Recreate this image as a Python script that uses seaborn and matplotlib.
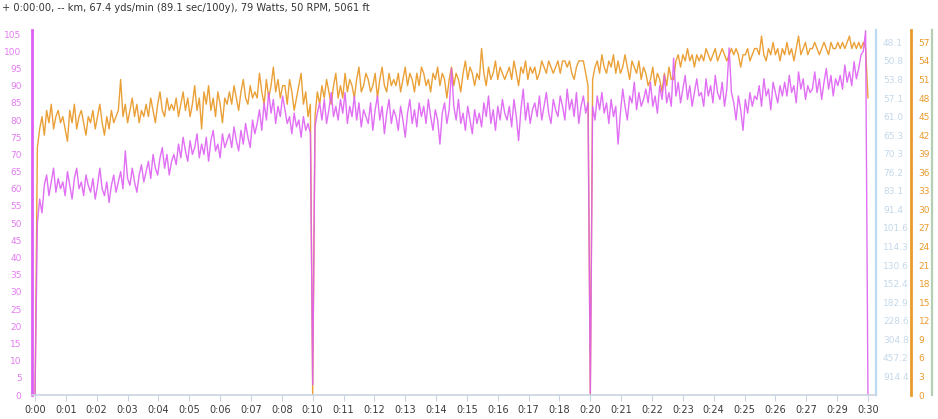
import numpy as np
import pandas as pd
import matplotlib
matplotlib.use("Agg")
import matplotlib.pyplot as plt
import seaborn as sns

# ---------------- data (5 s samples, one row per minute) ----------------
sample_seconds = 5
power_watts = [
    0, 50, 57, 53, 61, 64, 58, 62, 66, 59, 63, 60,
    62, 58, 65, 61, 57, 63, 66, 60, 62, 58, 64, 61,
    59, 63, 57, 61, 66, 60, 58, 62, 56, 61, 64, 59,
    62, 65, 60, 71, 63, 61, 66, 62, 59, 64, 67, 62,
    65, 68, 63, 70, 66, 64, 69, 72, 66, 70, 64, 68,
    70, 67, 73, 69, 75, 71, 68, 74, 70, 72, 76, 69,
    73, 70, 75, 68, 74, 77, 71, 73, 69, 76, 72, 74,
    76, 72, 78, 74, 71, 77, 73, 79, 75, 72, 80, 76,
    79, 83, 77, 85, 80, 88, 82, 86, 79, 84, 81, 87,
    83, 79, 81, 76, 82, 78, 80, 75, 81, 77, 79, 76,
    3, 78, 82, 85, 80, 86, 79, 83, 88, 81, 84, 80,
    86, 82, 88, 79, 84, 81, 87, 80, 85, 78, 83, 81,
    79, 85, 77, 83, 87, 80, 84, 76, 82, 86, 79, 83,
    81, 77, 84, 80, 75, 82, 86, 79, 83, 78, 85, 81,
    84, 79, 86, 81, 77, 83, 80, 73, 82, 85, 79, 83,
    95, 84, 80, 86, 79, 82, 77, 84, 80, 76, 83, 79,
    82, 78, 85, 81, 87, 79, 83, 77, 84, 80, 86, 82,
    80, 84, 78, 86, 81, 74, 83, 89, 80, 85, 79, 83,
    85, 81, 87, 80, 84, 88, 82, 79, 86, 83, 81, 87,
    84, 80, 89, 83, 86, 81, 88, 79, 84, 87, 82, 85,
    0, 84, 80, 87, 83, 88, 82, 85, 79, 86, 81, 84,
    73, 82, 89, 84, 80, 87, 85, 91, 83, 88, 84, 86,
    89, 85, 91, 84, 87, 82, 90, 86, 93, 85, 88, 84,
    98, 87, 91, 85, 89, 93, 86, 90, 84, 88, 92, 87,
    88, 84, 92, 87, 90, 85, 93, 88, 86, 91, 84, 89,
    101, 88, 85, 80, 87, 83, 77, 86, 82, 88, 84, 87,
    86, 90, 84, 92, 87, 89, 83, 91, 88, 85, 90, 87,
    91, 87, 93, 88, 90, 85, 94, 89, 92, 86, 90, 88,
    89, 94, 88, 92, 86, 91, 95, 89, 93, 87, 92, 90,
    93, 89, 96, 91, 94, 90, 97, 92, 95, 99, 100, 106,
    0,
]
cadence_rpm = [
    0, 40, 43, 45, 42, 46, 44, 47, 43, 45, 46, 44,
    45, 43, 41, 46, 44, 47, 43, 45, 46, 44, 42, 45,
    44, 46, 43, 45, 47, 44, 42, 45, 43, 46, 44, 45,
    46, 51, 45, 47, 44, 46, 48, 45, 47, 44, 46, 45,
    47, 45, 48, 46, 44, 47, 49, 46, 45, 48, 46, 47,
    46, 48, 45, 47, 49, 46, 48, 45, 47, 50, 46, 48,
    43, 49, 47, 50, 46, 48, 45, 49, 47, 44, 48, 47,
    49, 47, 50, 48, 46, 49, 51, 48, 47, 50, 48, 49,
    48, 52, 49, 47, 51, 48, 50, 53, 49, 51, 48, 50,
    50, 47, 51, 49, 46, 48, 50, 52, 47, 49, 45, 47,
    0, 45, 49, 47, 50, 48, 51, 49, 47, 50, 52, 48,
    50, 48, 52, 49, 51, 50, 48, 51, 53, 49, 50, 52,
    51, 49, 50, 52, 48, 51, 53, 50, 49, 52, 50, 51,
    50, 52, 49, 51, 53, 50, 52, 51, 49, 52, 50, 53,
    52, 50, 51, 49, 52, 51, 53, 50, 52, 51, 48, 51,
    53, 50, 52, 51, 49, 52, 54, 51, 53, 52, 50, 52,
    51, 56, 52, 50, 53, 51, 52, 54, 51, 53, 52, 51,
    52, 53, 51, 54, 52, 50, 53, 52, 54, 51, 53, 52,
    53, 51, 52, 54, 53, 52, 54, 53, 52, 53, 54, 52,
    54, 54, 53, 54, 52, 51, 53, 54, 54, 54, 52, 50,
    0, 51, 53, 54, 52, 55, 53, 52, 54, 53, 55, 52,
    54, 52, 53, 55, 53, 51, 54, 53, 52, 54, 51, 53,
    52, 50, 51, 53, 50, 52, 51, 49, 52, 50, 53, 51,
    51, 54, 55, 53, 55, 54, 56, 54, 55, 53, 55, 54,
    55, 54, 56, 55, 54, 55, 56, 54, 55, 56, 55, 54,
    55, 56, 55, 56, 55, 53, 55, 55, 56, 54, 55, 56,
    56, 55, 58, 55, 54, 56, 55, 57, 55, 56, 54, 56,
    55, 57, 55, 56, 54, 56, 58, 55, 56, 57, 55, 56,
    56, 57, 56, 55, 56, 57, 56, 55, 57, 56, 56, 57,
    56, 57, 56, 57, 58, 56, 57, 56, 57, 56, 57, 56,
    48,
]
x_tick_labels = ["0:00", "0:01", "0:02", "0:03", "0:04", "0:05", "0:06", "0:07",
                 "0:08", "0:10", "0:11", "0:12", "0:13", "0:14", "0:15", "0:16",
                 "0:17", "0:18", "0:20", "0:21", "0:22", "0:23", "0:24", "0:25",
                 "0:26", "0:27", "0:29", "0:30"]
power_ticks = list(range(0, 106, 5))
cadence_ticks = list(range(0, 58, 3))
pace_ticks = list(range(3, 58, 3))
pace_labels = ["914.4", "457.2", "304.8", "228.6", "182.9", "152.4", "130.6",
               "114.3", "101.6", "91.4", "83.1", "76.2", "70.3", "65.3",
               "61.0", "57.1", "53.8", "50.8", "48.1"]
header = "+ 0:00:00, -- km, 67.4 yds/min (89.1 sec/100y), 79 Watts, 50 RPM, 5061 ft"

# ---------------- styling ----------------
MAGENTA = "#dd5ff3"
ORANGE = "#e99b2c"
PACE_BLUE = "#bcdaf2"
PACE_TXT = "#c4d8ea"
GREEN = "#b4cfb4"
AXIS_GRAY = "#c9d3e2"

sns.set_style("white")
plt.rcParams["font.family"] = ["DejaVu Sans"]

n = len(power_watts)
minutes = np.arange(n) * sample_seconds / 60.0
df = pd.DataFrame({"minutes": minutes, "power": power_watts, "cadence": cadence_rpm})

fig = plt.figure(figsize=(9.38, 4.19), dpi=100)
ax = fig.add_axes([32 / 938, 24 / 419, 844 / 938, 365 / 419])

ax_c = ax.twinx()
ax_p = ax.twinx()
ax_g = ax.twinx()

sns.lineplot(data=df, x="minutes", y="cadence", ax=ax_c, color=ORANGE,
             linewidth=1.0, estimator=None, alpha=0.95)
sns.lineplot(data=df, x="minutes", y="power", ax=ax, color=MAGENTA,
             linewidth=1.0, estimator=None, alpha=0.9)

ax.set_zorder(ax_g.get_zorder() + 3)
ax.patch.set_visible(False)

x_ticks = [i * 30 / 27 for i in range(len(x_tick_labels))]
for a in (ax, ax_c, ax_p, ax_g):
    a.set_xlim(-0.11, 30.29)
    a.set_xlabel("")
    a.set_ylabel("")

# left axis (power)
ax.set_ylim(0, 106.2)
ax.set_yticks(power_ticks)
ax.set_yticklabels([str(v) for v in power_ticks])
ax.tick_params(axis="y", left=False, labelsize=6.5, labelcolor="#e47cf0", pad=4)
ax.set_xticks(x_ticks)
ax.set_xticklabels(x_tick_labels)
ax.tick_params(axis="x", bottom=True, length=4, width=0.8, color=AXIS_GRAY,
               labelsize=7, labelcolor="#3a3a3a", pad=3)
for s in ("top", "right"):
    ax.spines[s].set_visible(False)
ax.spines["left"].set_color(MAGENTA)
ax.spines["left"].set_linewidth(2.0)
ax.spines["bottom"].set_color(AXIS_GRAY)
ax.spines["bottom"].set_linewidth(1.2)

# cadence axis
ax_c.set_ylim(0, 59)
ax_c.set_yticks(cadence_ticks)
ax_c.set_yticklabels([str(v) for v in cadence_ticks])
ax_c.spines["right"].set_position(("axes", 879 / 844))
ax_c.spines["right"].set_color(ORANGE)
ax_c.spines["right"].set_linewidth(2.0)
ax_c.tick_params(axis="y", right=False, labelsize=6.5, labelcolor=ORANGE, pad=2)

# pace axis
ax_p.set_ylim(0, 59)
ax_p.set_yticks(pace_ticks)
ax_p.set_yticklabels(pace_labels)
ax_p.spines["right"].set_color(PACE_BLUE)
ax_p.spines["right"].set_linewidth(1.6)
ax_p.tick_params(axis="y", right=False, labelsize=6.5, labelcolor=PACE_TXT, pad=1.5)

# altitude axis (no labels)
ax_g.set_ylim(0, 59)
ax_g.set_yticks([])
ax_g.spines["right"].set_position(("axes", 900 / 844))
ax_g.spines["right"].set_color(GREEN)
ax_g.spines["right"].set_linewidth(1.6)

for a in (ax_c, ax_p, ax_g):
    for s in ("top", "left", "bottom"):
        a.spines[s].set_visible(False)
    a.tick_params(axis="x", bottom=False, labelbottom=False)

fig.text(2 / 938, 1 - 8 / 419, header, fontsize=7.1, color="#333333",
         ha="left", va="center")

fig.savefig("out.png", dpi=100)
